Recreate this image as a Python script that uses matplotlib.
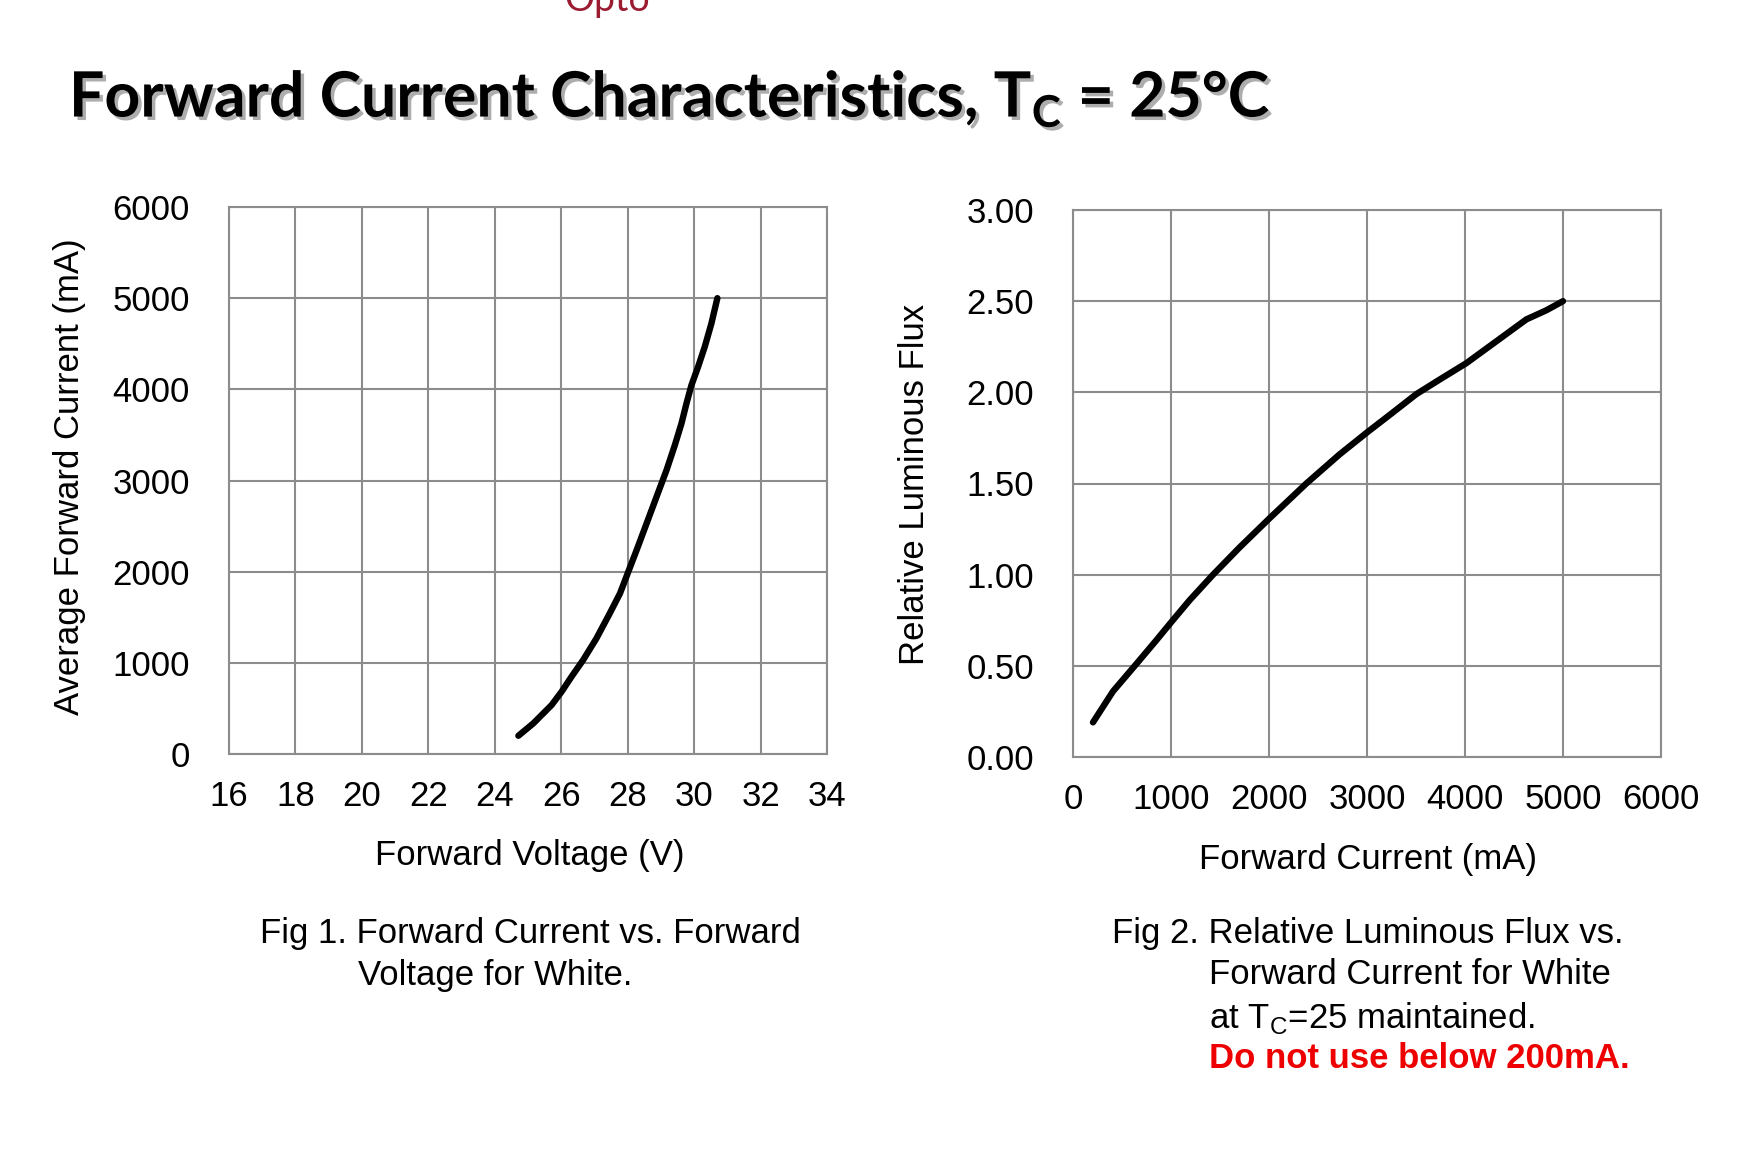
import matplotlib
matplotlib.use("Agg")
import matplotlib.pyplot as plt
import matplotlib.patheffects as pe
from matplotlib import font_manager as fm

# ---------------- data ----------------
fig1_voltage = [24.71, 25.16, 25.71, 26.01, 26.31, 26.66, 27.06, 27.46, 27.77, 28.02, 28.27,
                28.57, 28.87, 29.17, 29.42, 29.62, 29.77, 29.92, 30.12, 30.32, 30.52, 30.70]
fig1_current = [200, 336, 537, 683, 848, 1031, 1268, 1542, 1762, 2000, 2237,
                2529, 2822, 3114, 3388, 3626, 3845, 4046, 4247, 4466, 4722, 5000]

fig2_current = [204, 408, 646, 850, 1003, 1190, 1429, 1701, 2007, 2381, 2721,
                3000, 3265, 3503, 3741, 4014, 4218, 4422, 4626, 4830, 5000]
fig2_flux = [0.19, 0.36, 0.51, 0.64, 0.74, 0.86, 1.00, 1.15, 1.31, 1.50, 1.66,
             1.78, 1.89, 1.99, 2.07, 2.16, 2.24, 2.32, 2.40, 2.45, 2.50]

fig1_xticks = [16, 18, 20, 22, 24, 26, 28, 30, 32, 34]
fig1_yticks = [0, 1000, 2000, 3000, 4000, 5000, 6000]
fig2_xticks = [0, 1000, 2000, 3000, 4000, 5000, 6000]
fig2_yticks = [0.0, 0.5, 1.0, 1.5, 2.0, 2.5, 3.0]

title_text = "Forward Current Characteristics, T$_\\mathbf{C}$ = 25\u00b0C"
caption1 = ["Fig 1. Forward Current vs. Forward", "Voltage for White."]
caption2 = ["Fig 2. Relative Luminous Flux vs.", "Forward Current for White",
            "at T$_\\mathrm{C}$=25 maintained."]
caption2_warn = "Do not use below 200mA."

# ---------------- fonts ----------------
def has_font(name):
    try:
        fm.findfont(fm.FontProperties(family=name), fallback_to_default=False)
        return True
    except Exception:
        return False

body_font = "Liberation Sans" if has_font("Liberation Sans") else "DejaVu Sans"
title_font = "Lato" if has_font("Lato") else "Open Sans"

plt.rcParams["font.family"] = [body_font, "DejaVu Sans"]
plt.rcParams["mathtext.fontset"] = "custom"
plt.rcParams["mathtext.rm"] = body_font
plt.rcParams["mathtext.bf"] = title_font + ":bold"

W, H = 1752, 1151
fig = plt.figure(figsize=(W / 100, H / 100), dpi=100)
fig.patch.set_facecolor("white")

def px(x, y):
    return x / W, 1 - y / H

GRID = "#8c8c8c"
FS = 25

def make_axes(l, t, r, b):
    ax = fig.add_axes([l / W, 1 - b / H, (r - l) / W, (b - t) / H])
    for s in ax.spines.values():
        s.set_color(GRID)
        s.set_linewidth(1.5)
    ax.grid(True, color=GRID, linewidth=1.5)
    ax.set_axisbelow(True)
    ax.tick_params(length=0, labelsize=FS, colors="black")
    return ax

ax1 = make_axes(229, 207, 827, 754)
ax1.plot(fig1_voltage, fig1_current, color="black", lw=4.6,
         solid_capstyle="round", solid_joinstyle="round")
ax1.set_xlim(16, 34)
ax1.set_ylim(0, 6000)
ax1.set_xticks(fig1_xticks)
ax1.set_yticks(fig1_yticks)
ax1.tick_params(axis="x", pad=19)
ax1.tick_params(axis="y", pad=28)

ax2 = make_axes(1073, 210, 1661, 757)
ax2.plot(fig2_current, fig2_flux, color="black", lw=4.6,
         solid_capstyle="round", solid_joinstyle="round")
ax2.set_xlim(0, 6000)
ax2.set_ylim(0, 3.0)
ax2.set_xticks(fig2_xticks)
ax2.set_yticks(fig2_yticks)
ax2.set_yticklabels([f"{v:.2f}" for v in fig2_yticks])
ax2.tick_params(axis="x", pad=19)
ax2.tick_params(axis="y", pad=28)

# axis labels
fig.text(*px(70, 477), "Average Forward Current (mA)", rotation=90,
         ha="center", va="center", fontsize=FS)
fig.text(*px(530, 856), "Forward Voltage (V)", ha="center", va="center", fontsize=FS)
fig.text(*px(914, 484), "Relative Luminous Flux", rotation=90,
         ha="center", va="center", fontsize=FS)
fig.text(*px(1368, 860), "Forward Current (mA)", ha="center", va="center", fontsize=FS)

# captions
fig.text(*px(260, 934), caption1[0], ha="left", va="center", fontsize=FS)
fig.text(*px(358, 976), caption1[1], ha="left", va="center", fontsize=FS)
fig.text(*px(1112, 933), caption2[0], ha="left", va="center", fontsize=FS)
fig.text(*px(1209, 975), caption2[1], ha="left", va="center", fontsize=FS)
fig.text(*px(1209, 1018), caption2[2], ha="left", va="center", fontsize=FS)
fig.text(*px(1209, 1059), caption2_warn, ha="left", va="center", fontsize=FS,
         fontweight="bold", color="#ee0000")

# "Opto" header fragment (cut off at top, as in the source slide)
fig.text(*px(564, 11), "Opto", ha="left", va="baseline", fontsize=27,
         color="#9b1b30", family=[title_font, "DejaVu Sans"])

# title, scaled to match width
title = fig.text(*px(69, 117), title_text, ha="left", va="baseline",
                 fontsize=50, fontweight="bold", family=[title_font, "DejaVu Sans"],
                 path_effects=[pe.withSimplePatchShadow(offset=(2.5, -2.5),
                                                        shadow_rgbFace="#777777", alpha=0.6)])
fig.canvas.draw()
r = fig.canvas.get_renderer()
w = title.get_window_extent(r).width
title.set_fontsize(50 * 1202 / w)

fig.savefig("out.png", dpi=100, facecolor="white")
